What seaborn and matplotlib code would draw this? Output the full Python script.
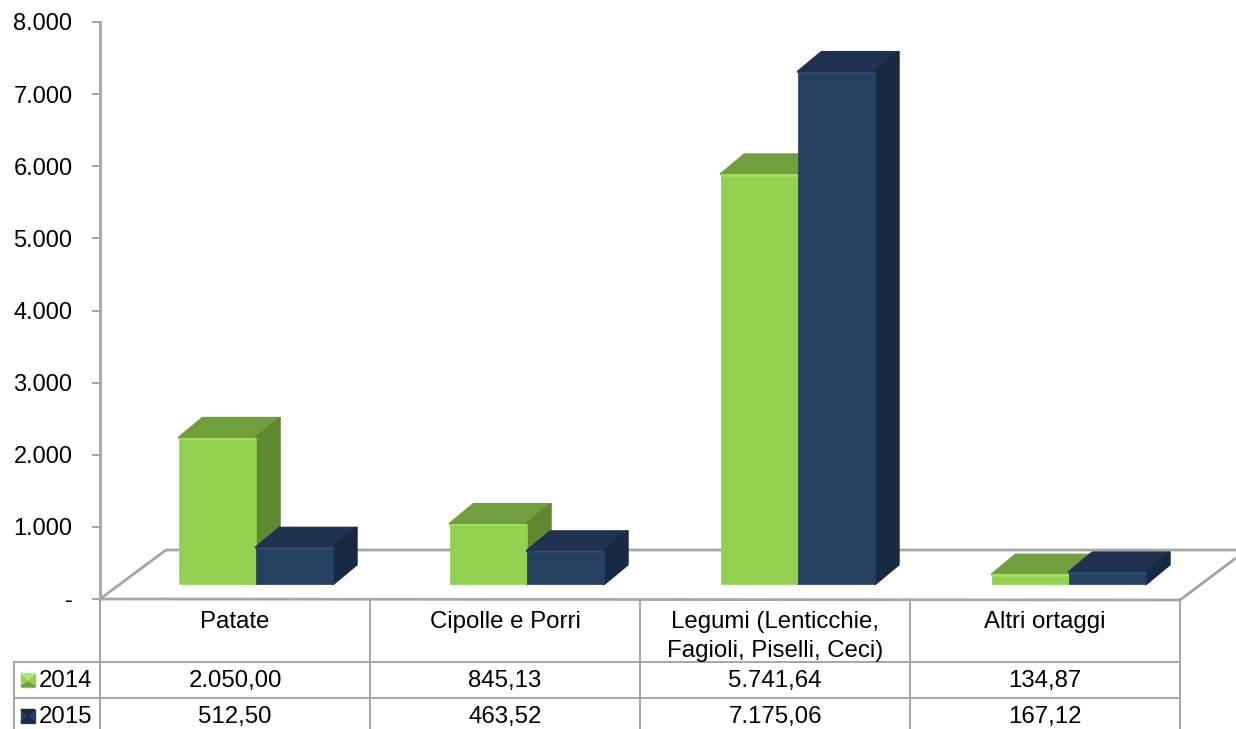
import pandas as pd
import seaborn as sns
import matplotlib.pyplot as plt
from matplotlib.patches import Polygon, Rectangle

W, H = 1236, 729

# data
categorie = ["Patate", "Cipolle e Porri", "Legumi (Lenticchie,\nFagioli, Piselli, Ceci)", "Altri ortaggi"]
anni = ["2014", "2015"]
valori_2014 = [2050.00, 845.13, 5741.64, 134.87]
valori_2015 = [512.50, 463.52, 7175.06, 167.12]
testo_2014 = ["2.050,00", "845,13", "5.741,64", "134,87"]
testo_2015 = ["512,50", "463,52", "7.175,06", "167,12"]
tick_valori = [0, 1000, 2000, 3000, 4000, 5000, 6000, 7000, 8000]
tick_testo = ["-", "1.000", "2.000", "3.000", "4.000", "5.000", "6.000", "7.000", "8.000"]

# colours: front, top, side, highlight
colori = {
    "2014": ("#92d14f", "#729f3d", "#5f8831", "#a3dd60"),
    "2015": ("#254061", "#1f3350", "#172a41", "#2b4a70"),
}
GRIGIO = "#a6a6a6"
FONT = 17.3
FONT_TICK = 17

sns.set_theme(style="white")
plt.rcParams["font.family"] = ["Liberation Sans", "DejaVu Sans"]
plt.rcParams["text.color"] = "black"

df = pd.DataFrame({
    "Categoria": categorie * 2,
    "Anno": [anni[0]] * 4 + [anni[1]] * 4,
    "Valore": valori_2014 + valori_2015,
})

fig = plt.figure(figsize=(W / 100, H / 100), dpi=100, facecolor="white")


def rect_px(left, top, right, bottom):
    return [left / W, 1 - bottom / H, (right - left) / W, (bottom - top) / H]


# background layer in pixels: floor and table
bg = fig.add_axes([0, 0, 1, 1], zorder=0)
bg.set_xlim(0, W)
bg.set_ylim(H, 0)
bg.axis("off")

lw = 1.4
bg.plot([100, 1180], [599, 600], color=GRIGIO, lw=2.0)
bg.plot([100, 166, 1236], [599, 550, 550], color=GRIGIO, lw=2.0)
bg.plot([1180, 1236], [600, 558], color=GRIGIO, lw=2.0)
for x in [100, 370, 640, 910, 1180]:
    bg.plot([x, x], [599, 729], color=GRIGIO, lw=lw)
bg.plot([14, 14], [662, 729], color=GRIGIO, lw=lw)
bg.plot([14, 1180], [662, 662], color=GRIGIO, lw=lw)
bg.plot([14, 1180], [698, 698], color=GRIGIO, lw=lw)

for i, cat in enumerate(categorie):
    xc = 235 + 270 * i
    righe = cat.split("\n")
    for j, riga in enumerate(righe):
        bg.text(xc, 622 + 28.5 * j, riga, ha="center", va="center", fontsize=FONT)
    bg.text(xc, 681, testo_2014[i], ha="center", va="center", fontsize=FONT)
    bg.text(xc, 717, testo_2015[i], ha="center", va="center", fontsize=FONT)

# legend keys inside the table
for anno, y in zip(anni, [680, 716]):
    fronte, alto, lato, luce = colori[anno]
    bg.add_patch(Rectangle((21, y - 6.5), 14, 13, color=fronte))
    if anno == "2014":
        bg.add_patch(Polygon([(21, y - 6.5), (35, y - 6.5), (28, y)], color="#b5e57c"))
        bg.add_patch(Polygon([(21, y + 6.5), (35, y + 6.5), (28, y + 2)], color=alto))
    else:
        bg.add_patch(Polygon([(21, y - 6.5), (35, y - 6.5), (28, y)], color=lato))
        bg.add_patch(Polygon([(21, y + 6.5), (35, y + 6.5), (28, y)], color=lato))
    bg.text(39, y + 1, anno, ha="left", va="center", fontsize=FONT)

# y axis
ax = fig.add_axes(rect_px(100, 22, 1180, 599), zorder=1)
ax.patch.set_alpha(0)
ax.set_ylim(0, 8000)
ax.set_yticks(tick_valori)
ax.set_yticklabels(tick_testo, fontsize=FONT_TICK, color="black")
ax.set_xticks([])
ax.tick_params(axis="y", left=True, length=5.8, width=1.4, color=GRIGIO, pad=14)
for nome in ["top", "right", "bottom"]:
    ax.spines[nome].set_visible(False)
ax.spines["left"].set_color(GRIGIO)
ax.spines["left"].set_linewidth(2.0)

# bars, on their own axes shifted up and right like the 3D floor
PX_PER_UNIT = 0.0714
DX, DY = 23.5, 19.5
BASE = 584
ax_bar = fig.add_axes(rect_px(120.5, BASE - 8000 * PX_PER_UNIT, 1204.5, BASE), zorder=2)
ax_bar.patch.set_alpha(0)
sns.barplot(
    data=df, x="Categoria", y="Valore", hue="Anno", hue_order=anni, order=categorie,
    palette={a: colori[a][0] for a in anni}, width=0.568, gap=0, saturation=1,
    legend=False, ax=ax_bar,
)
ax_bar.set_xlim(-0.5, 3.5)
ax_bar.set_ylim(0, 8000)
ax_bar.axis("off")

dx = DX / 271
dy = DY / PX_PER_UNIT
strip = 2.5 / PX_PER_UNIT

for k, anno in enumerate(anni):
    fronte, alto, lato, luce = colori[anno]
    for p in ax_bar.containers[k]:
        x0, w, h = p.get_x(), p.get_width(), p.get_height()
        z = 3 + p.get_x() + k * 0.01
        p.set_zorder(z + 0.2)
        p.set_clip_on(False)
        p.set_edgecolor(fronte)
        p.set_linewidth(0.5)
        top = Polygon([(x0, h), (x0 + w, h), (x0 + w + dx, h + dy), (x0 + dx, h + dy)],
                      closed=True, facecolor=alto, edgecolor=alto, lw=1.8, joinstyle="round",
                      clip_on=False, zorder=z)
        side = Polygon([(x0 + w, 0), (x0 + w + dx, dy), (x0 + w + dx, h + dy), (x0 + w, h)],
                       closed=True, facecolor=lato, edgecolor=lato, lw=1.8, joinstyle="round",
                       clip_on=False, zorder=z + 0.1)
        ax_bar.add_patch(top)
        ax_bar.add_patch(side)
        # bevel highlight along the top of the front face
        ax_bar.add_patch(Rectangle((x0, h - min(strip, h * 0.5)), w, min(strip, h * 0.5),
                                   facecolor=luce, edgecolor="none", clip_on=False, zorder=z + 0.3))

fig.savefig("out.png", dpi=100)
